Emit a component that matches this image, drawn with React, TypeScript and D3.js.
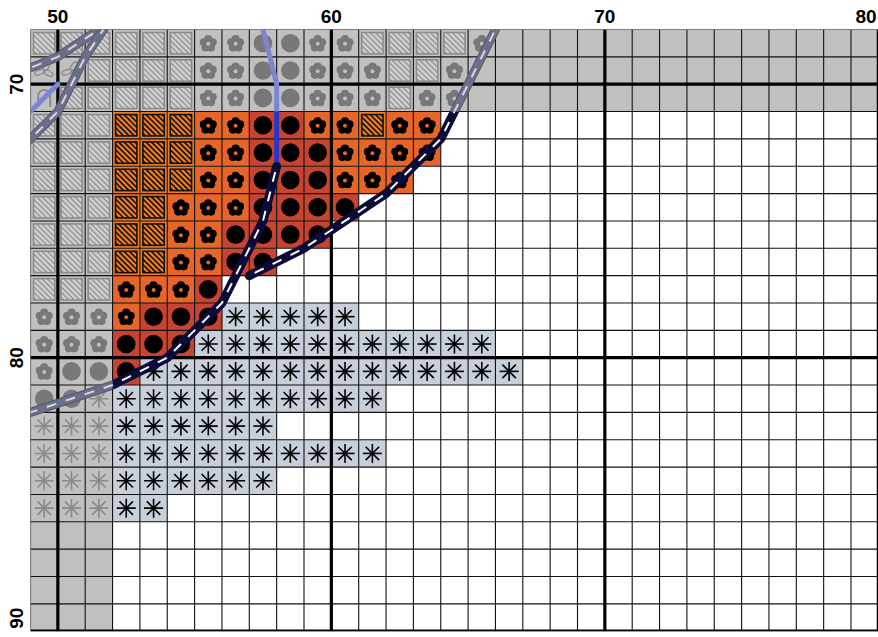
import React from 'react';
import * as d3 from 'd3';

const W = 878;
const H = 637;
const colDomain = [49, 80];
const rowDomain = [68, 90];
const colTicks = [50, 60, 70, 80];
const rowTicks = [70, 80, 90];
// shaded neighbour-page band (cols 49-52, rows 68-71)
const overlayColEnd = 52;
const overlayRowEnd = 71;

// one character per cell, row 68 downward, column 49 rightward
const patternRows = [
  'hhhhhhffccffhhhhfgggggggggggggg',
  'llhhhhffccfffhhfggggggggggggggg',
  'ahhhhhffccfffhffggggggggggggggg',
  'hhhHHHFFCCFFHFF................',
  'hhhHHHFFCCCFFFF................',
  'hhhHHHFFCCCFFF.................',
  'hhhHHFFFCCCC...................',
  'hhhHHFFCCCC....................',
  'hhhHHFFCC......................',
  'hhhFFFC........................',
  'fffFCCCSSSSS...................',
  'fffCCCSSSSSSSSSSS..............',
  'fccCSSSSSSSSSSSSSS.............',
  'ccsSSSSSSSSSS..................',
  'sssSSSSSS......................',
  'sssSSSSSSSSSS..................',
  'sssSSSSSS......................',
  'sssSS..........................',
  'ggg............................',
  'ggg............................',
  'ggg............................',
  'ggg............................',
];

// backstitch lines in grid coordinates [column, row]
const blueStitchA = [[57.25, 67], [58, 70], [58, 73]];
const blueStitchB = [[48, 72], [49, 71], [50, 70]];
const navyStitchA = [[58, 73], [57.5, 75], [56, 78], [55, 79], [54, 80], [52, 81], [49, 82], [46, 83]];
const navyStitchB = [[57, 77], [59, 76], [62, 74], [63, 73], [64, 72], [64.5, 71], [66, 68], [66.5, 67]];
const navyStitchC = [[47.5, 70], [50, 69], [51.5, 68], [52.25, 67.5]];
const navyStitchD = [[48, 73], [49, 72], [50, 71], [51, 69], [51.67, 68], [52.33, 67]];

const blueLines = [blueStitchA, blueStitchB];
const navyLines = [navyStitchA, navyStitchB, navyStitchC, navyStitchD];

const COL = {
  gray: '#c0c0c0',
  graySym: '#787878',
  orange: '#e8652a',
  red: '#c84430',
  hatchOrange: '#ee7d22',
  steel: '#c7cfd9',
  navy: '#0b0b3a',
  navyGray: '#6c6f88',
  blue: '#2837c8',
  blueGray: '#7c86d0',
};

const x = d3.scaleLinear().domain(colDomain).range([30.5, 30.5 + 31 * 27.35]);
const y = d3.scaleLinear().domain(rowDomain).range([29.5, 29.5 + 22 * 27.35]);

function Flower({ cx, cy, fill, hole }: any) {
  const petals = d3.range(5).map((i) => {
    const a = -Math.PI / 2 + (i * 2 * Math.PI) / 5;
    return <circle key={i} cx={cx + 4.6 * Math.cos(a)} cy={cy + 0.6 + 4.6 * Math.sin(a)} r={4.1} fill={fill} />;
  });
  return (
    <g>
      {petals}
      <circle cx={cx} cy={cy + 0.6} r={3.6} fill={fill} />
      <circle cx={cx} cy={cy + 0.6} r={2} fill={hole} />
    </g>
  );
}

function Hatch({ x0, y0, s, bg, inner, stripe, border, sw }: any) {
  const ins = 3;
  const X = x0 + ins, Y = y0 + ins, S = s - 2 * ins;
  const step = 5.4;
  const segs: number[][] = [];
  for (let c = -S + step / 2; c < S; c += step) {
    if (c >= 0) segs.push([X + c, Y, X + S, Y + S - c]);
    else segs.push([X, Y - c, X + S + c, Y + S]);
  }
  return (
    <g>
      <rect x={x0} y={y0} width={s} height={s} fill={bg} />
      <rect x={X} y={Y} width={S} height={S} fill={inner} />
      {segs.map((d, i) => (
        <line key={i} x1={d[0]} y1={d[1]} x2={d[2]} y2={d[3]} stroke={stripe} strokeWidth={sw} />
      ))}
      <rect x={X} y={Y} width={S} height={S} fill="none" stroke={border} strokeWidth={1.6} />
    </g>
  );
}

function Asterisk({ cx, cy, color }: any) {
  const r = 9.5;
  const angles = [0, 45, 90, 135];
  return (
    <g>
      {angles.map((a) => {
        const t = (a * Math.PI) / 180;
        const dx = r * Math.cos(t), dy = r * Math.sin(t);
        return <line key={a} x1={cx - dx} y1={cy - dy} x2={cx + dx} y2={cy + dy} stroke={color} strokeWidth={1.6} />;
      })}
      <circle cx={cx} cy={cy} r={2} fill={color} />
    </g>
  );
}

function Leaves({ cx, cy }: any) {
  const angs = [-60, 160, 30];
  return (
    <g>
      {angs.map((a) => {
        const lx = cx + 5 * Math.cos((a * Math.PI) / 180);
        const ly = cy + 5 * Math.sin((a * Math.PI) / 180);
        return (
          <ellipse key={a} cx={lx} cy={ly} rx={5} ry={2.4} transform={`rotate(${a} ${lx} ${ly})`}
            fill="none" stroke="#8a8a8a" strokeWidth={1.3} />
        );
      })}
    </g>
  );
}

function Cell({ code, x0, y0, s }: any) {
  const cx = x0 + s / 2, cy = y0 + s / 2;
  switch (code) {
    case 'g':
      return <rect x={x0} y={y0} width={s} height={s} fill={COL.gray} />;
    case 'h':
      return <Hatch x0={x0} y0={y0} s={s} bg={COL.gray} inner="#d0d0d0" stripe="#9a9a9a" border="#8c8c8c" sw={1.5} />;
    case 'H':
      return <Hatch x0={x0} y0={y0} s={s} bg={COL.hatchOrange} inner={COL.hatchOrange} stripe="#111" border="#111" sw={1.6} />;
    case 'f':
      return (<g><rect x={x0} y={y0} width={s} height={s} fill={COL.gray} /><Flower cx={cx} cy={cy} fill={COL.graySym} hole={COL.gray} /></g>);
    case 'F':
      return (<g><rect x={x0} y={y0} width={s} height={s} fill={COL.orange} /><Flower cx={cx} cy={cy} fill="#000" hole={COL.orange} /></g>);
    case 'c':
      return (<g><rect x={x0} y={y0} width={s} height={s} fill={COL.gray} /><circle cx={cx} cy={cy} r={9.3} fill={COL.graySym} /></g>);
    case 'C':
      return (<g><rect x={x0} y={y0} width={s} height={s} fill={COL.red} /><circle cx={cx} cy={cy} r={9.3} fill="#000" /></g>);
    case 's':
      return (<g><rect x={x0} y={y0} width={s} height={s} fill={COL.gray} /><Asterisk cx={cx} cy={cy} color="#8a8a8a" /></g>);
    case 'S':
      return (<g><rect x={x0} y={y0} width={s} height={s} fill={COL.steel} /><Asterisk cx={cx} cy={cy} color="#000" /></g>);
    case 'l':
      return (<g><rect x={x0} y={y0} width={s} height={s} fill={COL.gray} /><Leaves cx={cx} cy={cy} /></g>);
    case 'a':
      return (<g><rect x={x0} y={y0} width={s} height={s} fill={COL.gray} />
        <path d={`M${cx - 6},${cy + 9} V${cy - 2} A6,6 0 0 1 ${cx + 6},${cy - 2} V${cy + 9}`} fill="none" stroke="#8a8a8a" strokeWidth={2} /></g>);
    default:
      return <rect x={x0} y={y0} width={s} height={s} fill="#fff" />;
  }
}

export default function App() {
  const s = x(50) - x(49);
  const line = d3.line<number[]>().x((d) => x(d[0])).y((d) => y(d[1])).curve(d3.curveLinear);
  const cols = d3.range(colDomain[0], colDomain[1] + 1);
  const rowsIdx = d3.range(rowDomain[0], rowDomain[1] + 1);
  const gx0 = x(colDomain[0]), gx1 = Math.min(x(colDomain[1]), W);
  const gy0 = y(rowDomain[0]), gy1 = y(rowDomain[1]);

  const drawStitches = (gray: boolean) => (
    <g>
      {blueLines.map((pts, i) => (
        <path key={'b' + i} d={line(pts) || ''} fill="none" stroke={gray ? COL.blueGray : COL.blue} strokeWidth={5} strokeLinecap="round" strokeLinejoin="round" />
      ))}
      {navyLines.map((pts, i) => (
        <g key={'n' + i}>
          {gray && <path d={line(pts) || ''} fill="none" stroke="#55586e" strokeWidth={9} strokeLinecap="round" strokeLinejoin="round" />}
          <path d={line(pts) || ''} fill="none" stroke={gray ? COL.navyGray : COL.navy} strokeWidth={gray ? 7 : 9} strokeLinecap="round" strokeLinejoin="round" />
          <path d={line(pts) || ''} fill="none" stroke={gray ? '#d6d7de' : '#fff'} strokeWidth={2} strokeDasharray="10 10" strokeDashoffset={-6} />
        </g>
      ))}
    </g>
  );

  const labelStyle: any = { fontFamily: 'Liberation Sans, Arial, sans-serif', fontWeight: 'bold', fontSize: 19 };

  return (
    <svg width={W} height={H} style={{ position: 'fixed', left: 0, top: 0, background: '#fff' }}>
      <defs>
        <clipPath id="gridClip"><rect x={gx0} y={gy0} width={gx1 - gx0} height={gy1 - gy0} /></clipPath>
        <clipPath id="mainClip"><rect x={x(overlayColEnd)} y={y(overlayRowEnd)} width={gx1 - x(overlayColEnd)} height={gy1 - y(overlayRowEnd)} /></clipPath>
        <clipPath id="overlayClip">
          <rect x={gx0} y={gy0} width={x(overlayColEnd) - gx0} height={gy1 - gy0} />
          <rect x={gx0} y={gy0} width={gx1 - gx0} height={y(overlayRowEnd) - gy0} />
        </clipPath>
      </defs>
      <g clipPath="url(#gridClip)">
        {patternRows.map((row, r) =>
          row.split('').map((code, c) => (
            <Cell key={r + '-' + c} code={code} x0={x(colDomain[0] + c)} y0={y(rowDomain[0] + r)} s={s} />
          ))
        )}
        {cols.map((c) => (
          <line key={'vc' + c} x1={x(c)} x2={x(c)} y1={gy0} y2={gy1} stroke="#111" strokeWidth={1.1} />
        ))}
        {rowsIdx.map((r) => (
          <line key={'hr' + r} x1={gx0} x2={gx1} y1={y(r)} y2={y(r)} stroke="#111" strokeWidth={1.1} />
        ))}
        {colTicks.map((c) => (
          <line key={'tc' + c} x1={x(c)} x2={x(c)} y1={gy0} y2={gy1} stroke="#000" strokeWidth={3.2} />
        ))}
        {rowTicks.map((r) => (
          <line key={'tr' + r} x1={gx0} x2={gx1} y1={y(r)} y2={y(r)} stroke="#000" strokeWidth={3.2} />
        ))}
        <g clipPath="url(#mainClip)">{drawStitches(false)}</g>
        <g clipPath="url(#overlayClip)">{drawStitches(true)}</g>
      </g>
      {colTicks.map((c) => (
        <text key={'lc' + c} x={Math.min(x(c), W - 12)} y={23} textAnchor="middle" style={labelStyle}>{c}</text>
      ))}
      {rowTicks.map((r) => {
        const yy = Math.min(y(r), gy1 - 13);
        return (
          <text key={'lr' + r} transform={`translate(23,${yy}) rotate(-90)`} textAnchor="middle" style={labelStyle}>{r}</text>
        );
      })}
    </svg>
  );
}
